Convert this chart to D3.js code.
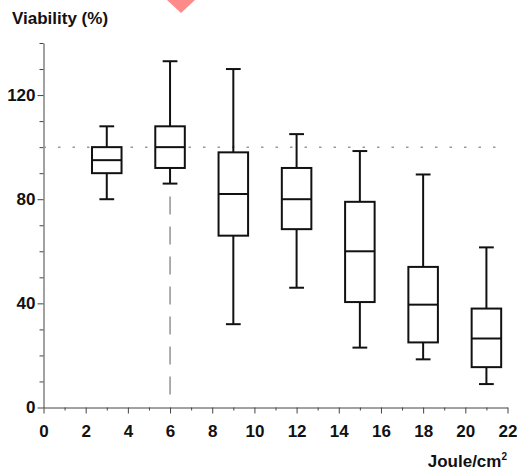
<!DOCTYPE html>
<html>
<head>
<meta charset="utf-8">
<script src="https://cdn.jsdelivr.net/npm/d3@7"></script>
<style>
	body { margin:0; background:#fff; }
	svg { display:block; font-family:"Liberation Sans", Arial, sans-serif; }
	.tick text { font-weight:bold; font-size:17px; fill:#111; }
</style>
</head>
<body>
<svg width="517" height="470"></svg>
<script>
// dose of each group (Joule/cm2) and box statistics (% viability)
var doses = [3, 6, 9, 12, 15, 18, 21];
var whiskerLow = [80, 86, 32, 46, 23, 18.5, 9];
var q1 = [90, 92, 66, 68.5, 40.5, 25, 15.5];
var median = [95, 100, 82, 80, 60, 39.5, 26.5];
var q3 = [100, 108, 98, 92, 79, 54, 38];
var whiskerHigh = [108, 133, 130, 105, 98.5, 89.5, 61.5];

var xTicks = d3.range(0, 23, 1);
var yTicks = d3.range(0, 141, 10);
var xLabels = [0, 2, 4, 6, 8, 10, 12, 14, 16, 18, 20, 22];
var yLabels = [0, 40, 80, 120];
var refValue = 100;
var markDose = 6, markTop = 81;

var svg = d3.select("svg");
var x = d3.scaleLinear().domain([0, 22]).range([43.5, 507.5]);
var y = d3.scaleLinear().domain([0, 140]).range([407.5, 43]);

// cut-off marker at the top of the page
svg.append("path")
	.attr("d", "M167,0L195,0L181,13Z")
	.attr("fill", "#ff8a8a");

// axes
var xAxis = svg.append("g")
	.attr("transform", "translate(0," + y(0) + ")")
	.call(d3.axisBottom(x).tickValues(xTicks).tickSizeOuter(0)
		.tickFormat(function(d){ return xLabels.indexOf(d) >= 0 ? d : ""; }));
xAxis.selectAll(".tick line").attr("y2", function(d){ return d % 2 == 0 ? 6 : 3; });
xAxis.selectAll(".tick text").attr("dy", "0.3em").attr("y", 24);

var yAxis = svg.append("g")
	.attr("transform", "translate(" + x(0) + ",0)")
	.call(d3.axisLeft(y).tickValues(yTicks).tickSizeOuter(0)
		.tickFormat(function(d){ return yLabels.indexOf(d) >= 0 ? d : ""; }));
yAxis.selectAll(".tick line").attr("x2", function(d){ return yLabels.indexOf(d) >= 0 ? -6 : -4; });
yAxis.selectAll(".tick text").attr("x", -8);

svg.selectAll(".domain, .tick line").attr("stroke", "#444");

svg.append("text")
	.attr("x", 12).attr("y", 24)
	.attr("font-weight", "bold").attr("font-size", 17).attr("fill", "#111")
	.text("Viability (%)");

var unit = svg.append("text")
	.attr("x", 507).attr("y", 467).attr("text-anchor", "end")
	.attr("font-weight", "bold").attr("font-size", 17).attr("fill", "#111");
unit.append("tspan").text("Joule/cm");
unit.append("tspan").attr("font-size", 10).attr("dy", -7).text("2");

// reference lines
svg.append("line")
	.attr("x1", x(0)).attr("x2", x(22))
	.attr("y1", y(refValue)).attr("y2", y(refValue))
	.attr("stroke", "#999").attr("stroke-width", 1.5)
	.attr("stroke-dasharray", "2.5,12");

svg.append("line")
	.attr("x1", x(markDose)).attr("x2", x(markDose))
	.attr("y1", y(markTop)).attr("y2", y(0) - 6)
	.attr("stroke", "#777").attr("stroke-width", 1.2)
	.attr("stroke-dasharray", "18,12");

// boxes
var data = doses.map(function(d, i){
	return { dose:d, lo:whiskerLow[i], q1:q1[i], med:median[i], q3:q3[i], hi:whiskerHigh[i] };
});
var boxW = x(1.4) - x(0);
var capW = x(0.7) - x(0);

var g = svg.selectAll(".box").data(data).enter().append("g")
	.attr("class", "box")
	.attr("fill", "none").attr("stroke", "#111").attr("stroke-width", 2);

g.append("line")
	.attr("x1", function(d){ return x(d.dose); }).attr("x2", function(d){ return x(d.dose); })
	.attr("y1", function(d){ return y(d.hi); }).attr("y2", function(d){ return y(d.q3); });
g.append("line")
	.attr("x1", function(d){ return x(d.dose); }).attr("x2", function(d){ return x(d.dose); })
	.attr("y1", function(d){ return y(d.q1); }).attr("y2", function(d){ return y(d.lo); });
g.append("line")
	.attr("x1", function(d){ return x(d.dose) - capW/2; }).attr("x2", function(d){ return x(d.dose) + capW/2; })
	.attr("y1", function(d){ return y(d.hi); }).attr("y2", function(d){ return y(d.hi); });
g.append("line")
	.attr("x1", function(d){ return x(d.dose) - capW/2; }).attr("x2", function(d){ return x(d.dose) + capW/2; })
	.attr("y1", function(d){ return y(d.lo); }).attr("y2", function(d){ return y(d.lo); });
g.append("rect")
	.attr("x", function(d){ return x(d.dose) - boxW/2; })
	.attr("width", boxW)
	.attr("y", function(d){ return y(d.q3); })
	.attr("height", function(d){ return y(d.q1) - y(d.q3); })
	.attr("fill", "#fff");
g.append("line")
	.attr("x1", function(d){ return x(d.dose) - boxW/2; }).attr("x2", function(d){ return x(d.dose) + boxW/2; })
	.attr("y1", function(d){ return y(d.med); }).attr("y2", function(d){ return y(d.med); });
</script>
</body>
</html>
